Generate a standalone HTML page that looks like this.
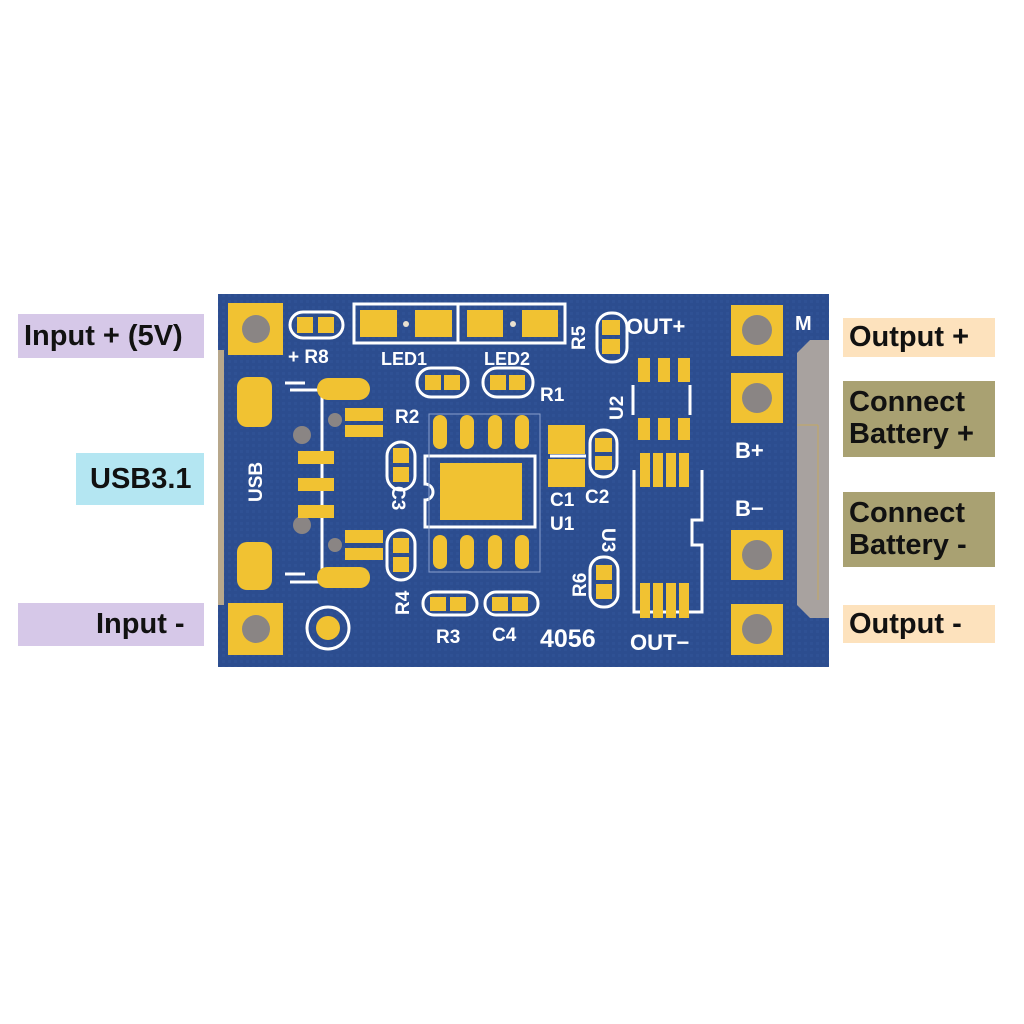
<!DOCTYPE html>
<html><head><style>
html,body{margin:0;padding:0;background:#fff;width:1024px;height:1024px;overflow:hidden}
.lab{position:absolute;font-family:"Liberation Sans","DejaVu Sans",sans-serif;font-weight:bold;font-size:29px;color:#111;line-height:32px;box-sizing:border-box}
</style></head><body>
<svg width="1024" height="1024" style="position:absolute;left:0;top:0" font-family="Liberation Sans, sans-serif" font-weight="bold">
<defs>
<pattern id="g" width="6" height="6" patternUnits="userSpaceOnUse"><rect width="6" height="6" fill="#2c4d8f"/><rect width="3" height="3" fill="#2f5194"/></pattern>
</defs>
<rect x="218" y="294" width="611" height="373" fill="url(#g)"/>
<!-- right gray connector -->
<path d="M810 340 L829 340 L829 618 L810 618 L797 605 L797 353 Z" fill="#a8a29f"/>
<line x1="797" y1="425" x2="818" y2="425" stroke="#c4a860" stroke-width="1"/>
<line x1="818" y1="425" x2="818" y2="600" stroke="#c4a860" stroke-width="1"/>
<rect x="218" y="350" width="6" height="255" fill="#b8a88c"/>
<g fill="#f1c232">
<!-- big pads -->
<rect x="228" y="303" width="55" height="52"/><rect x="228" y="603" width="55" height="52"/>
<rect x="731" y="305" width="52" height="51"/><rect x="731" y="373" width="52" height="50"/>
<rect x="731" y="530" width="52" height="50"/><rect x="731" y="604" width="52" height="51"/>
</g>
<g fill="#8a8584"><circle cx="256" cy="329" r="14"/><circle cx="256" cy="629" r="14"/>
<circle cx="757" cy="330" r="15"/><circle cx="757" cy="398" r="15"/><circle cx="757" cy="555" r="15"/><circle cx="757" cy="629" r="15"/>
<circle cx="335" cy="420" r="7"/><circle cx="302" cy="435" r="9"/><circle cx="302" cy="525" r="9"/><circle cx="335" cy="545" r="7"/></g>
<!-- silkscreen outlines -->
<g fill="none" stroke="#fff" stroke-width="3">
<rect x="290" y="312" width="53" height="26" rx="13"/>
<rect x="354" y="304" width="211" height="39"/><line x1="458" y1="304" x2="458" y2="343"/>
<rect x="597" y="313" width="30" height="49" rx="14"/>
<rect x="417" y="368" width="51" height="29" rx="14"/><rect x="483" y="368" width="50" height="29" rx="14"/>
<rect x="387" y="442" width="28" height="48" rx="14"/><rect x="387" y="530" width="28" height="50" rx="14"/>
<rect x="590" y="430" width="27" height="47" rx="13"/><rect x="590" y="557" width="28" height="50" rx="13"/>
<rect x="423" y="592" width="54" height="23" rx="11"/><rect x="485" y="592" width="53" height="23" rx="11"/>
<path d="M425 456 H535 V527 H425 V500 A8 8 0 0 0 425 484 Z"/>
<circle cx="328" cy="628" r="21"/>
<path d="M290 390 H322 V582 H290 M285 383 H305 M285 574 H305"/>
<line x1="322" y1="440" x2="322" y2="530" stroke-dasharray="8 5"/>
<path d="M633 385 V415 M690 385 V415"/>
<path d="M634 470 V612 H702 V545 H692 V520 H702 V470"/>
<line x1="550" y1="456" x2="586" y2="456"/>
</g>
<rect x="429" y="414" width="111" height="158" fill="none" stroke="#8aa0cc" stroke-width="1"/>
<g fill="#f1c232">
<rect x="297" y="317" width="16" height="16"/><rect x="318" y="317" width="16" height="16"/>
<rect x="360" y="310" width="37" height="27"/><rect x="415" y="310" width="37" height="27"/>
<rect x="467" y="310" width="36" height="27"/><rect x="522" y="310" width="36" height="27"/>
<rect x="602" y="320" width="18" height="15"/><rect x="602" y="339" width="18" height="15"/>
<rect x="425" y="375" width="16" height="15"/><rect x="444" y="375" width="16" height="15"/>
<rect x="490" y="375" width="16" height="15"/><rect x="509" y="375" width="16" height="15"/>
<rect x="393" y="448" width="16" height="15"/><rect x="393" y="467" width="16" height="15"/>
<rect x="393" y="538" width="16" height="15"/><rect x="393" y="557" width="16" height="15"/>
<rect x="595" y="438" width="17" height="14"/><rect x="595" y="456" width="17" height="14"/>
<rect x="596" y="565" width="16" height="15"/><rect x="596" y="584" width="16" height="15"/>
<rect x="430" y="597" width="16" height="14"/><rect x="450" y="597" width="16" height="14"/>
<rect x="492" y="597" width="16" height="14"/><rect x="512" y="597" width="16" height="14"/>
<rect x="548" y="425" width="37" height="29"/><rect x="548" y="459" width="37" height="28"/>
<rect x="440" y="463" width="82" height="57"/>
<rect x="433" y="415" width="14" height="34" rx="7"/><rect x="460" y="415" width="14" height="34" rx="7"/><rect x="488" y="415" width="14" height="34" rx="7"/><rect x="515" y="415" width="14" height="34" rx="7"/>
<rect x="433" y="535" width="14" height="34" rx="7"/><rect x="460" y="535" width="14" height="34" rx="7"/><rect x="488" y="535" width="14" height="34" rx="7"/><rect x="515" y="535" width="14" height="34" rx="7"/>
<circle cx="328" cy="628" r="12"/>
<rect x="237" y="377" width="35" height="50" rx="10"/><rect x="237" y="542" width="35" height="48" rx="10"/>
<rect x="317" y="378" width="53" height="22" rx="11"/><rect x="317" y="567" width="53" height="21" rx="10"/>
<rect x="345" y="408" width="38" height="13"/><rect x="345" y="425" width="38" height="12"/>
<rect x="345" y="530" width="38" height="13"/><rect x="345" y="548" width="38" height="12"/>
<rect x="298" y="451" width="36" height="13"/><rect x="298" y="478" width="36" height="13"/><rect x="298" y="505" width="36" height="13"/>
<rect x="638" y="358" width="12" height="24"/><rect x="658" y="358" width="12" height="24"/><rect x="678" y="358" width="12" height="24"/>
<rect x="638" y="418" width="12" height="22"/><rect x="658" y="418" width="12" height="22"/><rect x="678" y="418" width="12" height="22"/>
<rect x="640" y="453" width="10" height="34"/><rect x="653" y="453" width="10" height="34"/><rect x="666" y="453" width="10" height="34"/><rect x="679" y="453" width="10" height="34"/>
<rect x="640" y="583" width="10" height="35"/><rect x="653" y="583" width="10" height="35"/><rect x="666" y="583" width="10" height="35"/><rect x="679" y="583" width="10" height="35"/>
</g>
<g fill="#e8e0d0"><circle cx="406" cy="324" r="3"/><circle cx="513" cy="324" r="3"/></g>
<g fill="#fff" font-size="19">
<text x="288" y="363">+ R8</text>
<text x="381" y="365" font-size="18">LED1</text><text x="484" y="365" font-size="18">LED2</text>
<text x="540" y="401">R1</text><text x="395" y="423">R2</text>
<text x="550" y="506">C1</text><text x="585" y="503">C2</text><text x="550" y="530">U1</text>
<text x="436" y="643">R3</text><text x="492" y="641">C4</text>
<text x="540" y="647" font-size="25">4056</text>
<text x="626" y="334" font-size="22">OUT+</text><text x="630" y="650" font-size="22">OUT−</text>
<text x="735" y="458" font-size="22">B+</text><text x="735" y="516" font-size="22">B−</text>
<text x="795" y="330" font-size="20">M</text>
<text transform="translate(262,502) rotate(-90)" font-size="19">USB</text>
<text transform="translate(392,486) rotate(90)">C3</text>
<text transform="translate(409,615) rotate(-90)">R4</text>
<text transform="translate(585,350) rotate(-90)">R5</text>
<text transform="translate(586,597) rotate(-90)">R6</text>
<text transform="translate(623,420) rotate(-90)">U2</text>
<text transform="translate(602,528) rotate(90)">U3</text>
</g>
</svg>
<div class="lab" style="left:18px;top:314px;width:186px;height:44px;background:#d6c8e8;padding:6px 0 0 6px">Input + (5V)</div>
<div class="lab" style="left:76px;top:453px;width:128px;height:52px;background:#b4e6f2;padding:10px 0 0 14px">USB3.1</div>
<div class="lab" style="left:18px;top:603px;width:186px;height:43px;background:#d6c8e8;padding:5px 0 0 78px">Input -</div>
<div class="lab" style="left:843px;top:318px;width:152px;height:39px;background:#fde2bd;padding:3px 0 0 6px">Output +</div>
<div class="lab" style="left:843px;top:381px;width:152px;height:76px;background:#a9a172;padding:5px 0 0 6px">Connect<br>Battery +</div>
<div class="lab" style="left:843px;top:492px;width:152px;height:75px;background:#a9a172;padding:5px 0 0 6px">Connect<br>Battery -</div>
<div class="lab" style="left:843px;top:605px;width:152px;height:38px;background:#fde2bd;padding:3px 0 0 6px">Output -</div>
</body></html>
